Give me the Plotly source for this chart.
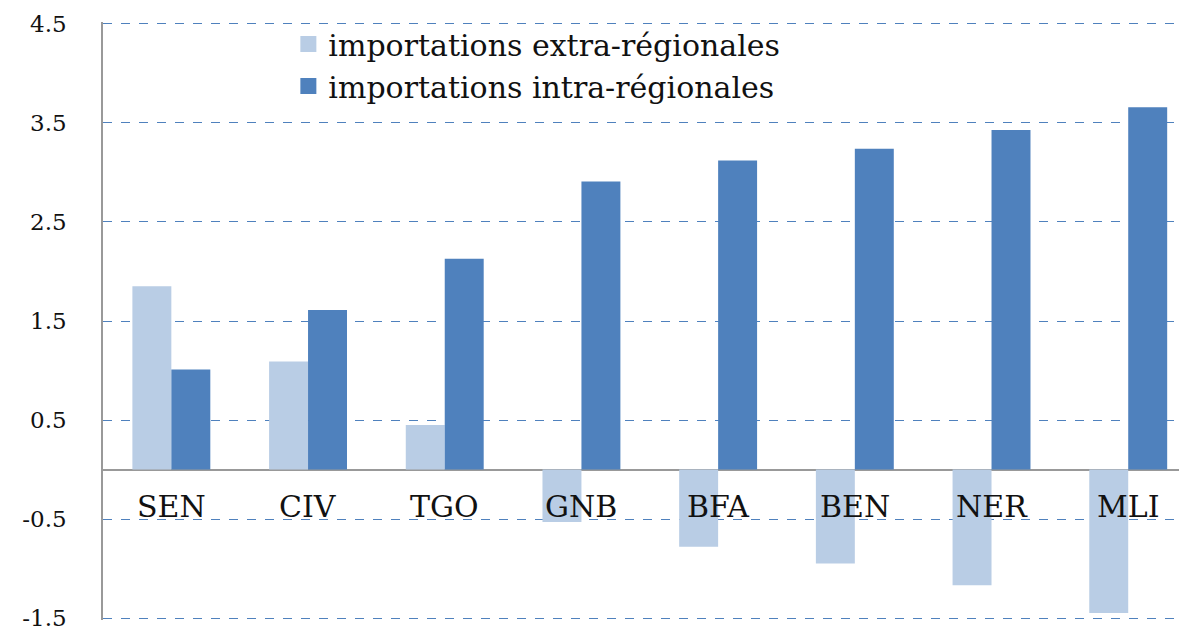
import plotly.graph_objects as go

categories = ["SEN", "CIV", "TGO", "GNB", "BFA", "BEN", "NER", "MLI"]
extra_regional = [1.85, 1.09, 0.45, -0.53, -0.78, -0.95, -1.17, -1.45]
intra_regional = [1.01, 1.61, 2.13, 2.91, 3.12, 3.24, 3.43, 3.66]
series_names = ["importations extra-régionales", "importations intra-régionales"]
y_ticks = [-1.5, -0.5, 0.5, 1.5, 2.5, 3.5, 4.5]
y_tick_labels = ["-1.5", "-0.5", "0.5", "1.5", "2.5", "3.5", "4.5"]

FONT = "DejaVu Serif"
LIGHT = "#B9CDE5"
DARK = "#4F81BD"

fig = go.Figure()
for vals, name, col in [(extra_regional, series_names[0], LIGHT), (intra_regional, series_names[1], DARK)]:
    fig.add_trace(go.Bar(x=categories, y=vals, name=name, showlegend=False,
                         marker=dict(color=col, line=dict(width=0))))
# legend entries with larger square swatches
for name, col in [(series_names[0], LIGHT), (series_names[1], DARK)]:
    fig.add_trace(go.Scatter(x=[None], y=[None], mode="markers", name=name,
                             marker=dict(symbol="square", size=17, color=col)))

for c in categories:
    fig.add_annotation(x=c, y=-0.37, xref="x", yref="y", text=c, showarrow=False,
                       yanchor="middle", xanchor="center",
                       font=dict(family=FONT, size=30, color="#111111"))

fig.update_layout(
    width=1179, height=622,
    margin=dict(l=95, r=0, t=14, b=10),
    paper_bgcolor="white", plot_bgcolor="white",
    barmode="group", bargap=0.43, bargroupgap=0,
    font=dict(family=FONT, color="#111111"),
    legend=dict(x=0.171, y=1.0067, xanchor="left", yanchor="top",
                font=dict(family=FONT, size=30, color="#111111"),
                bgcolor="rgba(0,0,0,0)", tracegroupgap=0),
    xaxis=dict(range=[-0.5, 7.43], showticklabels=False, showgrid=False, zeroline=False,
               showline=False, ticks="", automargin=False),
    yaxis=dict(range=[-1.52, 4.52], tickvals=y_ticks, ticktext=y_tick_labels,
               tickfont=dict(family=FONT, size=23, color="#111111"),
               ticklabeloverflow="allow",
               showgrid=True, gridcolor=DARK, griddash="dash", gridwidth=1,
               zeroline=True, zerolinecolor="#999999", zerolinewidth=1.5,
               showline=True, linecolor="#999999", linewidth=1.5,
               ticks="", ticklabelstandoff=30, automargin=False),
)

fig.write_html("out.html")
